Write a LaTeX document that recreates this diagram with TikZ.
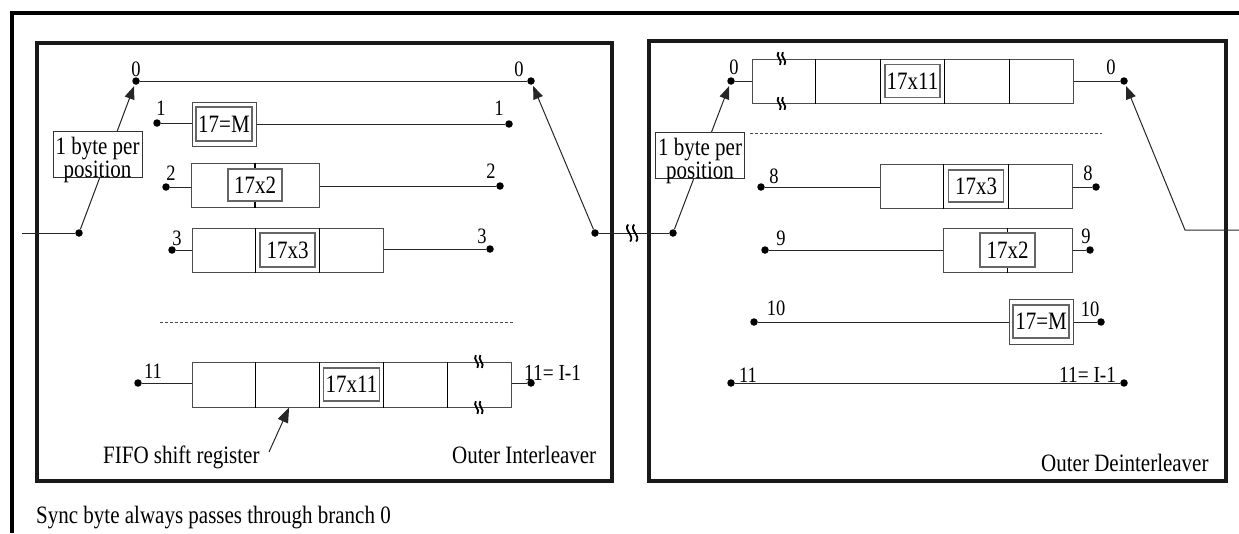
\documentclass[tikz,border=0pt]{standalone}
\usepackage{fontspec}
\setmainfont{Liberation Serif}[FakeStretch=0.84]
\usetikzlibrary{arrows.meta,calc}
\newcommand\myBig{\fontsize{25}{19.5}\selectfont}
\newcommand\myMid{\fontsize{23}{23}\selectfont}
\newcommand\mySmall{\fontsize{22}{22}\selectfont}
\begin{document}
\begin{tikzpicture}[x=1pt,y=-1pt,
  jdot/.style={circle, fill=black, inner sep=0pt, minimum size=7.5pt},
  reg/.style={draw=black!70, line width=1pt, fill=white, inner sep=0pt, minimum height=44pt},
  inb/.style={draw=black!60, line width=1.5pt, fill=white, inner sep=0pt, minimum width=55pt, minimum height=33pt, font=\myBig},
  divl/.style={line width=1.1pt, draw=black},
  wire/.style={line width=1pt, draw=black!85},
  arr/.style={-{Triangle[length=13pt,width=10pt]}, shorten >=1.5pt},
  panel/.style={line width=4pt, draw=black!90},
  frame/.style={line width=4pt, draw=black},
  txt/.style={inner sep=0pt, font=\myBig, anchor=base west},
  lab/.style={inner sep=0pt, font=\mySmall, anchor=base},
  dashl/.style={line width=0.8pt, draw=black!70, dash pattern=on 3pt off 2pt},
  bytebox/.style={draw=black!80, line width=1pt, fill=white, inner sep=0pt, minimum width=89pt, minimum height=46pt},
  brk/.pic={\foreach \d in {-3,3}{\draw[line width=1.8pt] (\d-1,-8.5) .. controls (\d-6,-3) and (\d+6,3) .. (\d+1,8.5);}}
]
\useasboundingbox (0,0) rectangle (1239,533);
% outer frame
\coordinate (fA) at (12,533);
\coordinate (fB) at (12,13);
\coordinate (fC) at (1239,13);
\draw[frame] (fA) -- (fB) -- (fC);
% panels
\draw[panel] (37,43) rectangle (612,481);
\draw[panel] (649,41) rectangle (1226,481);

% ---------------- left panel -----------------
\node[jdot] (inL) at (79,233) {};
\node[jdot] (l0a) at (136,81) {};
\node[jdot] (l0b) at (531,81) {};
\node[jdot] (l1a) at (157,123) {};
\node[jdot] (l1b) at (509,124) {};
\node[jdot] (l2a) at (166,187) {};
\node[jdot] (l2b) at (500,186) {};
\node[jdot] (l3a) at (172,250) {};
\node[jdot] (l3b) at (490,249) {};
\node[jdot] (l11a) at (138,383) {};
\node[jdot] (l11b) at (531,383) {};
\node[jdot] (outL) at (595,233) {};
\coordinate (entL) at (22,233);

% registers
\node[reg, minimum width=64pt] (lb1) at (224,124) {};
\node[reg, minimum width=128pt] (lb2) at (255,185) {};
\node[reg, minimum width=191pt] (lb3) at (287.5,250) {};
\node[reg, minimum width=319pt, minimum height=45pt] (lb11) at (351.5,384.5) {};
\draw[divl] (lb2.north) -- (lb2.south);
\foreach \k in {1,2}
  \draw[divl] ($(lb3.north west)!\k/3!(lb3.north east)$) -- ($(lb3.south west)!\k/3!(lb3.south east)$);
\foreach \k in {1,2,3,4}
  \draw[divl] ($(lb11.north west)!\k/5!(lb11.north east)$) -- ($(lb11.south west)!\k/5!(lb11.south east)$);
\node[inb, minimum width=56pt, minimum height=34pt] (lb1i) at (lb1) {17=M};
\node[inb, minimum width=54pt, minimum height=32pt] (lb2i) at (lb2) {17x2};
\node[inb, minimum height=34pt] (lb3i) at (lb3) {17x3};
\node[inb, minimum width=56pt] (lb11i) at (lb11) {17x11};
\pic[scale=0.75] at ($(lb11.north west)!0.898!(lb11.north east)$) {brk};
\pic[scale=0.75] at ($(lb11.south west)!0.898!(lb11.south east)$) {brk};

% wires
\draw[wire] (entL) -- (inL);
\draw[wire] (l0a) -- (l0b);
\draw[wire] (l1a) -- (l1a -| lb1.west);
\draw[wire] (lb1.east |- l1b) -- (l1b);
\draw[wire] (l2a) -- (l2a -| lb2.west);
\draw[wire] (lb2.east |- l2b) -- (l2b);
\draw[wire] (l3a) -- (l3a -| lb3.west);
\draw[wire] (lb3.east |- l3b) -- (l3b);
\draw[wire] (l11a) -- (l11a -| lb11.west);
\draw[wire] (lb11.east |- l11b) -- (l11b);
\draw[dashl] (160,322) -- (514,322);

% switches
\draw[wire, arr] (inL) -- (l0a);
\draw[wire, arr] (outL) -- (l0b);
\node[bytebox] (bpL) at (97.5,154) {};
\node[inner sep=0pt, font=\myBig, align=center] at ([yshift=-6pt]bpL.center) {1 byte per\\position};

% FIFO arrow
\coordinate (fifoTail) at (269,452);
\coordinate (fifoTip) at ($(lb11.south west)!0.305!(lb11.south east)$);
\draw[wire, -{Triangle[length=15pt,width=11pt]}] (fifoTail) -- (fifoTip);

% labels
\node[lab] at (136,76) {0};
\node[lab] at (519,76) {0};
\node[lab] at (161,115) {1};
\node[lab] at (499,115) {1};
\node[lab] at (171,180) {2};
\node[lab] at (491,178) {2};
\node[lab] at (177,245) {3};
\node[lab] at (482,243) {3};
\node[lab] at (153,378) {11};
\node[txt, font=\myMid] at (524,380) {11= I-1};
\node[txt] at (103,463) {FIFO shift register};
\node[txt] at (452,463) {Outer Interleaver};
\node[txt] at (36,523) {Sync byte always passes through branch 0};

% ---------------- right panel -----------------
\node[jdot] (inR) at (673,233) {};
\node[jdot] (r0a) at (731,81) {};
\node[jdot] (r0b) at (1124,81) {};
\node[jdot] (r8a) at (761,187) {};
\node[jdot] (r8b) at (1096,187) {};
\node[jdot] (r9a) at (765,250) {};
\node[jdot] (r9b) at (1090,250) {};
\node[jdot] (r10a) at (754,322) {};
\node[jdot] (r10b) at (1101,322) {};
\node[jdot] (r11a) at (731,383) {};
\node[jdot] (r11b) at (1124,383) {};
\coordinate (bend) at (1185,230);
\coordinate (exitR) at (1239,230);

\node[reg, minimum width=321pt] (rb0) at (912.5,81) {};
\node[reg, minimum width=192pt] (rb8) at (976,186) {};
\node[reg, minimum width=129pt] (rb9) at (1007.5,250) {};
\node[reg, minimum width=64pt, minimum height=45pt] (rb10) at (1041,321.5) {};
\foreach \k in {1,2,3,4}
  \draw[divl] ($(rb0.north west)!\k/5!(rb0.north east)$) -- ($(rb0.south west)!\k/5!(rb0.south east)$);
\foreach \k in {1,2}
  \draw[divl] ($(rb8.north west)!\k/3!(rb8.north east)$) -- ($(rb8.south west)!\k/3!(rb8.south east)$);
\draw[divl] (rb9.north) -- (rb9.south);
\node[inb] (rb0i) at (rb0) {17x11};
\node[inb, minimum height=32pt] (rb8i) at (rb8) {17x3};
\node[inb, minimum height=34pt] (rb9i) at (rb9) {17x2};
\node[inb, minimum width=56pt] (rb10i) at (rb10) {17=M};
\pic[scale=0.75] at ($(rb0.north west)!0.093!(rb0.north east)$) {brk};
\pic[scale=0.75] at ($(rb0.south west)!0.093!(rb0.south east)$) {brk};

\draw[wire] (r0a) -- (r0a -| rb0.west);
\draw[wire] (rb0.east |- r0b) -- (r0b);
\draw[wire] (r8a) -- (r8a -| rb8.west);
\draw[wire] (rb8.east |- r8b) -- (r8b);
\draw[wire] (r9a) -- (r9a -| rb9.west);
\draw[wire] (rb9.east |- r9b) -- (r9b);
\draw[wire] (r10a) -- (r10a -| rb10.west);
\draw[wire] (rb10.east |- r10b) -- (r10b);
\draw[wire] (r11a) -- (r11b);
\draw[dashl] (750,133) -- (1102,133);

\draw[wire, arr] (inR) -- (r0a);
\draw[wire, arr] (exitR) -- (bend) -- (r0b);
\node[bytebox] (bpR) at (700,155) {};
\node[inner sep=0pt, font=\myBig, align=center] at ([yshift=-6pt]bpR.center) {1 byte per\\position};

% link between panels
\draw[wire] (outL) -- coordinate[pos=0.474] (midbrk) (inR);
\pic at (midbrk) {brk};

\node[lab] at (734,74) {0};
\node[lab] at (1111,74) {0};
\node[lab] at (774,183) {8};
\node[lab] at (1088,180) {8};
\node[lab] at (781,245) {9};
\node[lab] at (1086,243) {9};
\node[lab] at (776,315) {10};
\node[lab] at (1090,316) {10};
\node[lab] at (748,382) {11};
\node[txt, font=\myMid] at (1059,382) {11= I-1};
\node[txt] at (1041,471) {Outer Deinterleaver};
\end{tikzpicture}
\end{document}
